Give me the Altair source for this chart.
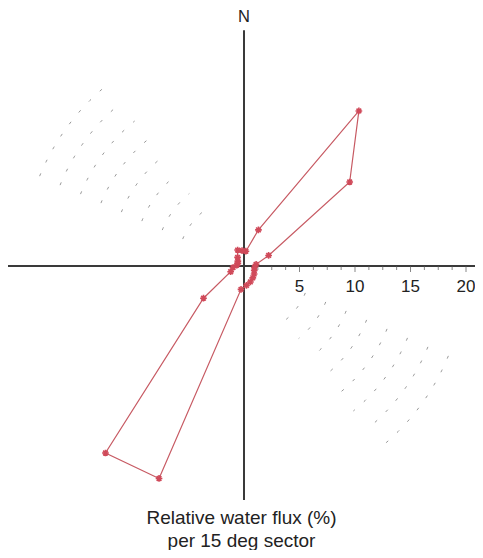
import altair as alt
import numpy as np
import pandas as pd

# ---- data ----
sector_centre_deg = [7.5, 22.5, 37.5, 52.5, 67.5, 82.5, 97.5, 112.5, 127.5, 142.5, 157.5, 172.5,
                     187.5, 202.5, 217.5, 232.5, 247.5, 262.5, 277.5, 292.5, 307.5, 322.5, 337.5, 352.5]
flux_pct = [1.3, 3.4, 17.0, 12.0, 2.4, 1.1, 0.95, 1.0, 1.15, 1.3, 1.5, 1.7,
            2.05, 20.0, 20.5, 4.6, 1.3, 1.0, 0.65, 0.6, 0.7, 0.95, 1.5, 1.35]
minor_ticks = [1.25, 2.5, 3.75, 6.25, 7.5, 8.75, 11.25, 12.5, 13.75, 16.25, 17.5, 18.75]
major_ticks = [5, 10, 15, 20]
tick_labels = ["5", "10", "15", "20"]
grid_radii = [6, 8, 10, 12, 14, 16, 18, 20]
grid_sectors = [(293, 322), (113, 142)]

XDOM = [-21.26, 20.81]
YDOM = [-20.35, 20.96]
FONT = "Liberation Sans"

# ---- tables ----
th = np.deg2rad(sector_centre_deg)
rose = pd.DataFrame({
    "x": np.array(flux_pct) * np.sin(th),
    "y": np.array(flux_pct) * np.cos(th),
    "order": range(len(flux_pct)),
})
rose_closed = pd.concat([rose, rose.iloc[[0]].assign(order=len(rose))], ignore_index=True)

arc_rows = []
for k, (a0, a1) in enumerate(grid_sectors):
    for r in grid_radii:
        for a in np.arange(a0, a1 + 0.5, 1.0):
            t = np.deg2rad(a)
            arc_rows.append({"x": r * np.sin(t), "y": r * np.cos(t), "arc": f"{k}-{r}", "a": a})
arcs = pd.DataFrame(arc_rows)

xs = alt.Scale(domain=XDOM, nice=False, zero=False)
ys = alt.Scale(domain=YDOM, nice=False, zero=False)

def X(f="x:Q"):
    return alt.X(f, scale=xs, axis=None)

def Y(f="y:Q"):
    return alt.Y(f, scale=ys, axis=None)

grid = alt.Chart(arcs).mark_line(color="#555555", strokeWidth=1, strokeDash=[3, 12], opacity=0.6).encode(
    x=X(), y=Y(), detail="arc:N", order="a:Q")

haxis = alt.Chart(pd.DataFrame({"x": [XDOM[0]], "x2": [XDOM[1]], "y": [0]})).mark_rule(
    color="#3a3a3a", strokeWidth=2).encode(x=X(), x2="x2:Q", y=Y())
vaxis = alt.Chart(pd.DataFrame({"y": [YDOM[0]], "y2": [20.5], "x": [0]})).mark_rule(
    color="#3a3a3a", strokeWidth=2).encode(x=X(), y=Y(), y2="y2:Q")

mticks = alt.Chart(pd.DataFrame({"x": minor_ticks, "y": [0] * len(minor_ticks)})).mark_tick(
    orient="vertical", size=4, thickness=1, yOffset=2, color="#555555").encode(x=X(), y=Y())
Mticks = alt.Chart(pd.DataFrame({"x": major_ticks, "y": [0] * len(major_ticks)})).mark_tick(
    orient="vertical", size=6, thickness=1, yOffset=3, color="#555555").encode(x=X(), y=Y())

labels = alt.Chart(pd.DataFrame({"x": major_ticks, "y": [0] * 4, "t": tick_labels})).mark_text(
    dy=21, fontSize=17, font=FONT, color="#222222", baseline="middle").encode(x=X(), y=Y(), text="t:N")

north = alt.Chart(pd.DataFrame({"x": [0], "y": [YDOM[1]], "t": ["N"]})).mark_text(
    dy=-8, fontSize=16.5, font=FONT, color="#222222", baseline="middle").encode(x=X(), y=Y(), text="t:N")

line = alt.Chart(rose_closed).mark_line(color="#c75a63", strokeWidth=1.2).encode(
    x=X(), y=Y(), order="order:Q")
star = "M-1,0L1,0M0,-1L0,1M-0.7,-0.7L0.7,0.7M-0.7,0.7L0.7,-0.7"
pts = alt.Chart(rose).mark_point(shape=star, filled=False, size=45, strokeWidth=1.6,
                                 color="#d04a5a", opacity=1).encode(x=X(), y=Y())

chart = alt.layer(grid, haxis, vaxis, mticks, Mticks, labels, north, line, pts).properties(
    width=467, height=475,
    autosize=alt.AutoSizeParams(type="none"),
    padding={"left": 0, "top": 17, "right": 0, "bottom": 50},
    title=alt.Title(["Relative water flux (%)", "per 15 deg sector"], orient="bottom",
                    fontSize=19, fontWeight="normal", font=FONT, color="#222222",
                    lineHeight=23, offset=8),
).configure(background="white", view=alt.ViewConfig(stroke="transparent", strokeWidth=0))

chart.save("out.html", embed_options={"renderer": "svg", "actions": False})
